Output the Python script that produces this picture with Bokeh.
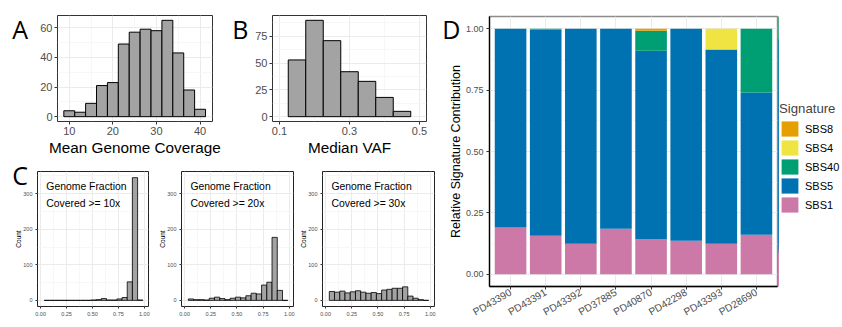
import math
from bokeh.plotting import figure
from bokeh.layouts import row, column
from bokeh.models import (Range1d, FixedTicker, Legend, LegendItem, GridBox,
                          ColumnDataSource, NumeralTickFormatter)
from bokeh.core.properties import value
from bokeh.embed import file_html
from bokeh.resources import INLINE

# ---------------- data ----------------
coverage_centers = [10.0, 12.5, 15.0, 17.5, 20.0, 22.5, 25.0, 27.5, 30.0, 32.5, 35.0, 37.5, 40.0]
coverage_counts = [4, 3, 9, 21, 23, 49, 57, 59, 58, 65, 43, 18, 5]
coverage_binwidth = 2.5

vaf_centers = [0.15, 0.20, 0.25, 0.30, 0.35, 0.40, 0.45]
vaf_counts = [53, 90, 71, 42, 33, 18, 5]
vaf_binwidth = 0.05

fraction_centers = [0.06, 0.11, 0.16, 0.21, 0.26, 0.31, 0.36, 0.41, 0.46, 0.51,
                    0.56, 0.61, 0.66, 0.71, 0.76, 0.81, 0.86, 0.91, 0.96]
fraction_binwidth = 0.05
covered_10x_counts = [0, 0, 0, 0, 0, 0, 0, 0, 0, 1, 2, 5, 1, 1, 4, 8, 52, 345, 1]
covered_20x_counts = [4, 2, 2, 1, 6, 9, 5, 2, 6, 9, 7, 13, 20, 18, 43, 51, 177, 28, 0]
covered_30x_counts = [25, 23, 26, 21, 24, 27, 23, 20, 22, 19, 29, 31, 34, 34, 38, 12, 6, 2, 0]
coverage_thresholds = ["10x", "20x", "30x"]

samples = ["PD43390", "PD43391", "PD43392", "PD37885", "PD40870", "PD42298", "PD43393", "PD28690"]
sbs1 = [0.190, 0.157, 0.124, 0.185, 0.144, 0.136, 0.124, 0.161]
sbs5 = [0.810, 0.840, 0.876, 0.815, 0.766, 0.864, 0.792, 0.579]
sbs40 = [0.000, 0.003, 0.000, 0.000, 0.082, 0.000, 0.000, 0.260]
sbs4 = [0.000, 0.000, 0.000, 0.000, 0.000, 0.000, 0.084, 0.000]
sbs8 = [0.000, 0.000, 0.000, 0.000, 0.008, 0.000, 0.000, 0.000]
signatures = ["SBS1", "SBS5", "SBS40", "SBS4", "SBS8"]
signature_colors = ["#CC79A7", "#0072B2", "#009E73", "#F0E442", "#E69F00"]

panel_letters = ["A", "B", "C", "D"]

# ---------------- style ----------------
FONT = "Liberation Sans"
LETTER_FONT = "Open Sans"
TICK_COL = "#4D4D4D"
GRID_COL = "#EBEBEB"
MINOR_GRID_COL = "#F3F3F3"
HIST_FILL = "#A3A3A3"
PAGE_W, PAGE_H = 842, 327


def make_fig(w, h, xr, yr, bl, br, bt, bb):
    p = figure(width=w, height=h, x_range=Range1d(*xr), y_range=Range1d(*yr),
               output_backend="svg", toolbar_location=None,
               min_border_left=bl, min_border_right=br,
               min_border_top=bt, min_border_bottom=bb)
    p.background_fill_color = "white"
    p.border_fill_color = "white"
    return p


def style(p, xt, xm, yt, ym, tick_px, label_px, tick_len, outline="#333333",
          label_std=1, axis_std=2, ow=1.0):
    p.xaxis.ticker = FixedTicker(ticks=xt, minor_ticks=xm)
    p.yaxis.ticker = FixedTicker(ticks=yt, minor_ticks=ym)
    for ax in (p.xaxis[0], p.yaxis[0]):
        ax.axis_line_color = None
        ax.major_tick_line_color = "#333333"
        ax.major_tick_out = tick_len
        ax.major_tick_in = 0
        ax.minor_tick_line_color = None
        ax.major_label_text_font = FONT
        ax.major_label_text_font_size = tick_px
        ax.major_label_text_color = TICK_COL
        ax.major_label_standoff = label_std
        ax.axis_label_text_font = FONT
        ax.axis_label_text_font_size = label_px
        ax.axis_label_text_font_style = "normal"
        ax.axis_label_text_color = "black"
        ax.axis_label_standoff = axis_std
    for g in (p.xgrid[0], p.ygrid[0]):
        g.grid_line_color = GRID_COL
        g.grid_line_width = 1
        g.minor_grid_line_color = MINOR_GRID_COL
        g.minor_grid_line_width = 0.7
    p.outline_line_color = outline
    p.outline_line_width = ow


def hist(p, centers, counts, bw, lw=1.0):
    src = ColumnDataSource(dict(
        left=[c - bw / 2 for c in centers],
        right=[c + bw / 2 for c in centers],
        top=counts, bottom=[0] * len(counts)))
    p.quad(left="left", right="right", top="top", bottom="bottom", source=src,
           fill_color=HIST_FILL, line_color="black", line_width=lw)


# ---------------- panel A ----------------
pA = make_fig(230, 158, (7.3, 42.85), (-3.25, 68.25), 57, 18, 15, 34)
hist(pA, coverage_centers, coverage_counts, coverage_binwidth)
style(pA, [10, 20, 30, 40], [15, 25, 35], [0, 20, 40, 60], [10, 30, 50],
      "11px", "15.3px", 3, label_std=1, axis_std=1)
pA.xaxis.axis_label = "Mean Genome Coverage"

# ---------------- panel B ----------------
pB = make_fig(210, 158, (0.08, 0.52), (-4.5, 94.5), 42, 14, 15, 34)
hist(pB, vaf_centers, vaf_counts, vaf_binwidth)
style(pB, [0.1, 0.3, 0.5], [0.2, 0.4], [0, 25, 50, 75], [12.5, 37.5, 62.5, 87.5],
      "11px", "15.3px", 3, label_std=1, axis_std=1)
pB.xaxis.formatter = NumeralTickFormatter(format="0.0")
pB.xaxis.axis_label = "Median VAF"

# ---------------- panel C ----------------
c_counts = [covered_10x_counts, covered_20x_counts, covered_30x_counts]
c_geom = [(150, 37, 2), (145, 31, 2), (145, 27, 6)]
c_figs = []
for thr, counts, (w, bl, br) in zip(coverage_thresholds, c_counts, c_geom):
    p = make_fig(w, 169, (-0.03, 1.04), (-17.25, 362.25), bl, br, 13, 21)
    hist(p, fraction_centers, counts, fraction_binwidth, lw=0.8)
    style(p, [0, 0.25, 0.5, 0.75, 1.0], [0.125, 0.375, 0.625, 0.875],
          [0, 100, 200, 300], [50, 150, 250, 350], "5.5px", "6.5px", 2,
          outline="#222222", label_std=1, axis_std=-2)
    p.xaxis.formatter = NumeralTickFormatter(format="0.00")
    p.yaxis.axis_label = "Count"
    p.text(x=[0.055, 0.055], y=[320, 272],
           text=["Genome Fraction", "Covered >= " + thr],
           text_font=value(FONT), text_font_size="10.4px", text_color="black",
           text_baseline="middle", text_align="left")
    c_figs.append(p)

# ---------------- panel D ----------------
xpos = list(range(1, len(samples) + 1))
srcD = ColumnDataSource(dict(x=xpos, SBS1=sbs1, SBS5=sbs5, SBS40=sbs40, SBS4=sbs4, SBS8=sbs8))
pD = make_fig(338, 327, (0.4, 8.6), (-0.05, 1.05), 49, 1, 16, 41)
pD.vbar_stack(signatures, x="x", width=0.9, fill_color=signature_colors,
              line_color=None, source=srcD)
style(pD, xpos, [], [0, 0.25, 0.5, 0.75, 1.0], [0.125, 0.375, 0.625, 0.875],
      "9px", "12.5px", 3, outline="#8C8C8C", label_std=2, axis_std=0, ow=1.4)
pD.xaxis.major_label_text_font_size = "10.2px"
pD.xaxis.major_label_overrides = {i: s for i, s in zip(xpos, samples)}
pD.xaxis.major_label_orientation = math.radians(30)
pD.yaxis.formatter = NumeralTickFormatter(format="0.00")
pD.yaxis.axis_label = "Relative Signature Contribution"
for ax in (pD.xaxis[0], pD.yaxis[0]):
    ax.axis_line_color = "black"
    ax.axis_line_width = 1.3
pD.xgrid.minor_grid_line_color = None

# ---------------- legend (own narrow canvas) ----------------
pL = figure(width=64, height=327, x_range=Range1d(20, 21), y_range=Range1d(0, 1),
            output_backend="svg", toolbar_location=None,
            x_axis_type=None, y_axis_type=None,
            min_border_left=0, min_border_right=0, min_border_top=0, min_border_bottom=0)
pL.outline_line_color = None
pL.grid.visible = False
pL.background_fill_color = "white"
pL.border_fill_color = "white"
rendsL = pL.vbar_stack(signatures, x="x", width=0.9, fill_color=signature_colors,
                       line_color=None, source=srcD)
items = [LegendItem(label=s, renderers=[r]) for s, r in zip(signatures, rendsL)][::-1]
legend = Legend(items=items, location=(1, 72), title="Signature",
                title_text_font=FONT, title_text_font_size="13.2px",
                title_text_font_style="normal", title_standoff=3,
                label_text_font=FONT, label_text_font_size="11px",
                label_text_color="black", glyph_width=21, glyph_height=19,
                label_height=19, spacing=0, label_standoff=5, padding=0,
                margin=0, border_line_color=None, background_fill_alpha=0)
pL.add_layout(legend)

main = row(column(row(pA, pB), row(*c_figs)), pD, pL)

# ---------------- transparent overlay for the panel letters ----------------
pO = figure(width=PAGE_W, height=PAGE_H, x_range=Range1d(0, PAGE_W),
            y_range=Range1d(PAGE_H, 0), output_backend="svg", toolbar_location=None,
            x_axis_type=None, y_axis_type=None,
            min_border_left=0, min_border_right=0, min_border_top=0, min_border_bottom=0)
pO.outline_line_color = None
pO.grid.visible = False
pO.background_fill_alpha = 0
pO.border_fill_alpha = 0
pO.text(x=[11.7, 231.7, 11.7, 441.7], y=[28.3, 28.3, 174.0, 28.3], text=panel_letters,
        text_font=value(LETTER_FONT), text_font_size="25px", text_color="black",
        text_baseline="alphabetic", text_align="left")

layout = GridBox(children=[(main, 0, 0), (pO, 0, 0)])
open("out.html", "w").write(file_html(layout, INLINE))
